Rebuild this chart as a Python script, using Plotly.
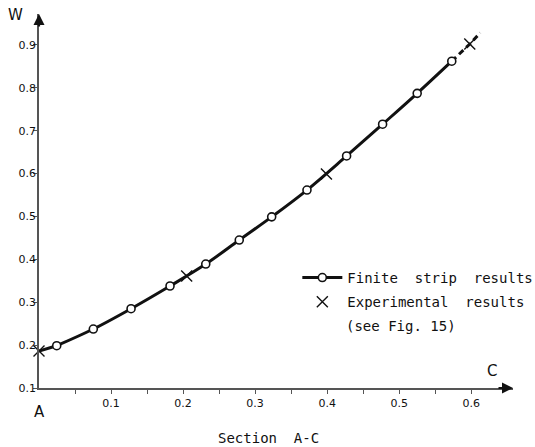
import plotly.graph_objects as go

# Finite strip results (circles)
fs_x = [0.0246, 0.0754, 0.1278, 0.1819, 0.2315, 0.278, 0.323, 0.372, 0.427, 0.477, 0.525, 0.573]
fs_y = [0.1986, 0.2375, 0.2849, 0.3378, 0.389, 0.445, 0.499, 0.5615, 0.641, 0.715, 0.787, 0.862]

# Experimental results (crosses)
exp_x = [0.0, 0.205, 0.399, 0.598]
exp_y = [0.186, 0.361, 0.599, 0.902]

# Dashed extrapolation of the curve beyond the last circle
ext_x = [0.573, 0.598, 0.6125]
ext_y = [0.862, 0.902, 0.928]

# Axis ticks
x_ticks = [0.1, 0.2, 0.3, 0.4, 0.5, 0.6]
x_tick_labels = ["0.1", "0.2", "0.3", "0.4", "0.5", "0.6"]
x_minor_ticks = [0.05, 0.15, 0.25, 0.35, 0.45, 0.55]
y_ticks = [0.1, 0.2, 0.3, 0.4, 0.5, 0.6, 0.7, 0.8, 0.9]
y_tick_labels = ["0.1", "0.2", "0.3", "0.4", "0.5", "0.6", "0.7", "0.8", "0.9"]

FONT = "DejaVu Sans"
TFONT = "DejaVu Sans Mono"
INK = "#111111"
AXC = "#555555"

fig = go.Figure()

# connector from the experimental point at A to the first circle
fig.add_trace(go.Scatter(
    x=[exp_x[0], fs_x[0]], y=[exp_y[0], fs_y[0]], mode="lines",
    line=dict(color=INK, width=3), showlegend=False, hoverinfo="skip"))

# dashed extension
fig.add_trace(go.Scatter(
    x=ext_x, y=ext_y, mode="lines",
    line=dict(color=INK, width=3, dash="6px,4px"), showlegend=False, hoverinfo="skip"))

fig.add_trace(go.Scatter(
    x=fs_x, y=fs_y, mode="lines+markers", name="Finite  strip  results",
    line=dict(color=INK, width=3, shape="spline"),
    marker=dict(symbol="circle", size=8, color="white", line=dict(color=INK, width=1.6)),
    legendgroup="a"))

fig.add_trace(go.Scatter(
    x=exp_x, y=exp_y, mode="markers", name="Experimental  results",
    marker=dict(symbol="x-thin-open", size=11, color=INK, line=dict(color=INK, width=1.4)),
    legendgroup="b", cliponaxis=False))

fig.update_layout(
    width=535, height=447, autosize=False,
    margin=dict(l=39, r=22, t=14, b=59, autoexpand=False),
    paper_bgcolor="white", plot_bgcolor="white",
    font=dict(family=FONT, color=INK),
    showlegend=True,
    legend=dict(x=0.545, y=0.337, xanchor="left", yanchor="top",
                font=dict(size=14, family=TFONT, color=INK),
                itemwidth=40, tracegroupgap=3, bgcolor="rgba(0,0,0,0)"),
    xaxis=dict(range=[0, 0.658], tickvals=x_ticks, ticktext=x_tick_labels,
               ticks="outside", ticklen=4, tickwidth=1.2, tickcolor=AXC,
               minor=dict(tickvals=x_minor_ticks, ticks="outside", ticklen=4, tickwidth=1.2, tickcolor=AXC),
               showline=True, linecolor=AXC, linewidth=1.5, showgrid=False, zeroline=False,
               tickfont=dict(size=11, family=FONT, color=INK)),
    yaxis=dict(range=[0.1, 0.972], tickvals=y_ticks, ticktext=y_tick_labels,
               ticks="outside", ticklen=4, tickwidth=1.2, tickcolor=AXC, ticklabelstandoff=-5,
               showline=True, linecolor=AXC, linewidth=1.5, showgrid=False, zeroline=False,
               tickfont=dict(size=11, family=FONT, color=INK)),
    xaxis2=dict(range=[0, 0.658], overlaying="x", anchor="y", side="bottom",
                tickvals=x_ticks + x_minor_ticks,
                ticks="inside", ticklen=4, tickwidth=1.2, tickcolor=AXC,
                showticklabels=False, showline=False, showgrid=False, zeroline=False),
)

annotations = [
    dict(text="W", x=0, y=1, xref="paper", yref="paper", xanchor="right", yanchor="middle",
         xshift=-14, yshift=-1, showarrow=False, font=dict(size=15, family=FONT, color=INK)),
    dict(text="A", x=0, y=0, xref="paper", yref="paper", xanchor="center", yanchor="top",
         yshift=-13, showarrow=False, font=dict(size=15, family=FONT, color=INK)),
    dict(text="C", x=0.955, y=0, xref="paper", yref="paper", xanchor="center", yanchor="bottom",
         yshift=6, showarrow=False, font=dict(size=15, family=FONT, color=INK)),
    dict(text="Section  A-C", x=0.484, y=0, xref="paper", yref="paper", xanchor="center", yanchor="top",
         yshift=-40, showarrow=False, font=dict(size=14, family=TFONT, color=INK)),
    dict(text="(see Fig. 15)", x=0.545, y=0.337, xref="paper", yref="paper", xanchor="left", yanchor="middle",
         xshift=47, yshift=-64, showarrow=False, font=dict(size=14, family=TFONT, color=INK)),
    # axis arrows
    dict(text="", x=1, y=0, xref="paper", yref="paper", ax=-16, ay=0, showarrow=True,
         arrowhead=2, arrowsize=1, arrowwidth=2.2, arrowcolor=INK),
    dict(text="", x=0, y=1, xref="paper", yref="paper", ax=0, ay=14, showarrow=True,
         arrowhead=2, arrowsize=1, arrowwidth=2.2, arrowcolor=INK),
]
fig.update_layout(annotations=annotations)

fig.write_html("out.html")
